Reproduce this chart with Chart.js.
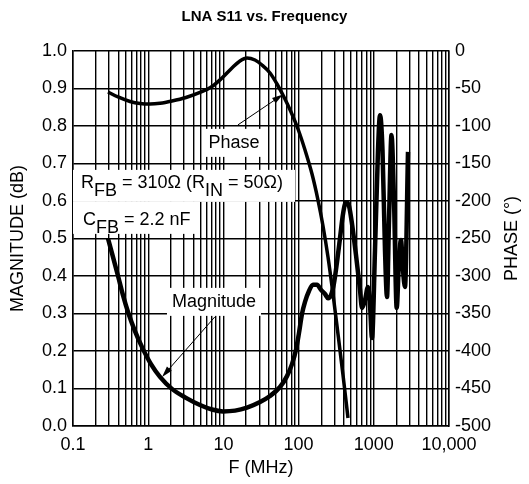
<!DOCTYPE html>
<html>
<head>
<meta charset="utf-8">
<script src="https://cdn.jsdelivr.net/npm/chart.js@4.4.1/dist/chart.umd.min.js"></script>
<style>
  html, body { margin: 0; padding: 0; background: #fff; }
  canvas { display: block; }
</style>
</head>
<body>
<canvas id="s11Chart" width="529" height="484"></canvas>
<script>
// S11 magnitude (dB) vs frequency (MHz)
const magFreq = [0.292, 0.34, 0.397, 0.462, 0.539, 0.667, 0.853, 1.089, 1.435, 2.07, 3.18, 4.88, 7.05, 9.88, 14.3, 20.6, 30.7, 41.7, 56.6, 70.1, 81.7, 92.3, 101.2, 111, 121.7, 137.5, 155.4, 175.7, 198.6, 224.5, 246, 269.7, 295.6, 324, 355.2, 389.4, 426.8, 467.9, 513, 579.8, 655.4, 696.6, 763.8, 837.3, 890.2, 946.5, 1037.5, 1137.5, 1209, 1305, 1409, 1498, 1593, 1719, 1856, 2016, 2163, 2299, 2445, 2599, 2849];
const magnitude = [0.500, 0.451, 0.400, 0.349, 0.304, 0.253, 0.205, 0.165, 0.131, 0.099, 0.075, 0.056, 0.044, 0.039, 0.041, 0.049, 0.064, 0.080, 0.104, 0.133, 0.165, 0.203, 0.248, 0.299, 0.331, 0.360, 0.377, 0.377, 0.363, 0.352, 0.341, 0.349, 0.381, 0.437, 0.501, 0.565, 0.597, 0.587, 0.539, 0.456, 0.363, 0.315, 0.336, 0.371, 0.323, 0.235, 0.469, 0.736, 0.829, 0.736, 0.469, 0.344, 0.549, 0.776, 0.603, 0.315, 0.443, 0.496, 0.416, 0.371, 0.731];

// S11 phase (degrees) vs frequency (MHz)
const phaseFreq = [0.292, 0.397, 0.573, 0.778, 1.057, 1.435, 2.07, 3.18, 4.88, 7.05, 9.58, 13.0, 16.6, 20.6, 26.3, 32.6, 41.7, 51.6, 63.9, 79.3, 98.2, 121.7, 150.8, 181.1, 211.1, 246, 286.7, 334, 389.4, 453.8];
const phase = [-54.7, -61.3, -67.3, -70, -70.7, -69.7, -66.7, -62, -55.3, -47.3, -36, -22.7, -13.3, -9.3, -12, -18.7, -29.3, -44, -61.3, -81.3, -104, -132, -164, -198.7, -233.3, -274.7, -324, -377.3, -432, -489.3];

// axis ticks
const decades = [0.1, 1, 10, 100, 1000, 10000];
const decadeLabels = ['0.1', '1', '10', '100', '1000', '10,000'];
const magTickLabels = ['0.0', '0.1', '0.2', '0.3', '0.4', '0.5', '0.6', '0.7', '0.8', '0.9', '1.0'];
const phaseTickLabels = ['-500', '-450', '-400', '-350', '-300', '-250', '-200', '-150', '-100', '-50', '0'];

// log grid: 1..9 in every decade
const gridValues = [];
decades.slice(0, -1).forEach(d => {
  for (let k = 1; k <= 9; k++) gridValues.push(d * k);
});
gridValues.push(decades[decades.length - 1]);

const FONT = '"Liberation Sans", Arial, Helvetica, sans-serif';
Chart.defaults.font.family = FONT;
Chart.defaults.color = '#000';

// callouts, placed in data units (MHz, magnitude)
const notes = {
  box: { f: 0.1, m: 0.683, rows: [222, 122], rowH: 32 },
  phaseLabel: { f: 13.8, m: 0.755, text: 'Phase' },
  phaseArrow: { from: [15.6, 0.803], to: [62, 0.884] },
  magLabel: { f: 7.5, m: 0.331, text: 'Magnitude' },
  magArrow: { from: [7.7, 0.291], to: [1.53, 0.131] }
};

function drawParts(ctx, x, y, parts) {
  parts.forEach(([txt, sub]) => {
    ctx.fillText(txt, x, sub ? y + 8 : y);
    x += ctx.measureText(txt).width;
  });
}

function arrow(ctx, x1, y1, x2, y2) {
  const a = Math.atan2(y2 - y1, x2 - x1);
  const len = 11, half = 3.2;
  ctx.beginPath();
  ctx.moveTo(x1, y1);
  ctx.lineTo(x2 - Math.cos(a) * len * 0.8, y2 - Math.sin(a) * len * 0.8);
  ctx.lineWidth = 1;
  ctx.strokeStyle = '#000';
  ctx.stroke();
  ctx.beginPath();
  ctx.moveTo(x2, y2);
  ctx.lineTo(x2 - Math.cos(a) * len - Math.sin(a) * half, y2 - Math.sin(a) * len + Math.cos(a) * half);
  ctx.lineTo(x2 - Math.cos(a) * len + Math.sin(a) * half, y2 - Math.sin(a) * len - Math.cos(a) * half);
  ctx.closePath();
  ctx.fillStyle = '#000';
  ctx.fill();
}

const calloutPlugin = {
  id: 'callouts',
  beforeDatasetsDraw(chart) {
    const { ctx, scales: { x, y } } = chart;
    const px = f => x.getPixelForValue(f);
    const py = m => y.getPixelForValue(m);
    ctx.save();
    ctx.font = '18px ' + FONT;
    ctx.textBaseline = 'alphabetic';

    // component values box
    const b = notes.box;
    const bx = px(b.f), by = py(b.m);
    ctx.fillStyle = '#fff';
    ctx.fillRect(bx, by, b.rows[0], b.rowH);
    ctx.fillRect(bx, by + b.rowH, b.rows[1], b.rowH);
    ctx.fillStyle = '#000';
    ctx.textAlign = 'left';
    drawParts(ctx, bx + 8, by + 18.5, [['R', 0], ['FB', 1], [' = 310Ω (R', 0], ['IN', 1], [' = 50Ω)', 0]]);
    drawParts(ctx, bx + 10, by + 55, [['C', 0], ['FB', 1], [' = 2.2 nF', 0]]);

    // curve labels
    [notes.phaseLabel, notes.magLabel].forEach(l => {
      const w = ctx.measureText(l.text).width + 10;
      const cx = px(l.f), cy = py(l.m);
      ctx.fillStyle = '#fff';
      ctx.fillRect(cx - w / 2, cy - 14, w, 28);
      ctx.fillStyle = '#000';
      ctx.textAlign = 'center';
      ctx.textBaseline = 'middle';
      ctx.fillText(l.text, cx, cy);
    });

    [notes.phaseArrow, notes.magArrow].forEach(a => {
      arrow(ctx, px(a.from[0]), py(a.from[1]), px(a.to[0]), py(a.to[1]));
    });
    ctx.restore();
  },
  afterDraw(chart) {
    const { ctx, chartArea: ca } = chart;
    ctx.save();
    ctx.font = '18px ' + FONT;
    ctx.fillStyle = '#000';
    ctx.textAlign = 'center';
    ctx.textBaseline = 'middle';
    const midY = (ca.top + ca.bottom) / 2;
    ctx.fillText('F (MHz)', (ca.left + ca.right) / 2, 468);
    [[18, 'MAGNITUDE (dB)'], [512, 'PHASE (°)']].forEach(([tx, t]) => {
      ctx.save();
      ctx.translate(tx, midY);
      ctx.rotate(-Math.PI / 2);
      ctx.fillText(t, 0, 0);
      ctx.restore();
    });
    ctx.restore();
  }
};

const tickFont = { size: 18 };

new Chart(document.getElementById('s11Chart'), {
  type: 'line',
  data: {
    datasets: [
      {
        label: 'Magnitude',
        data: magFreq.map((f, i) => ({ x: f, y: magnitude[i] })),
        yAxisID: 'y',
        borderColor: '#000',
        borderWidth: 4.5,
        pointRadius: 0,
        cubicInterpolationMode: 'monotone'
      },
      {
        label: 'Phase',
        data: phaseFreq.map((f, i) => ({ x: f, y: phase[i] })),
        yAxisID: 'y2',
        borderColor: '#000',
        borderWidth: 3.5,
        pointRadius: 0,
        cubicInterpolationMode: 'monotone'
      }
    ]
  },
  options: {
    responsive: false,
    animation: false,
    layout: { padding: 0 },
    plugins: {
      legend: { display: false },
      tooltip: { enabled: false },
      title: {
        display: true,
        text: 'LNA S11 vs. Frequency',
        color: '#000',
        font: { size: 15, weight: 'bold' },
        padding: { top: 8, bottom: 25 }
      }
    },
    scales: {
      x: {
        type: 'logarithmic',
        position: 'bottom',
        min: 0.1,
        max: 10000,
        grid: { color: '#000', lineWidth: 1.4, drawTicks: false },
        border: { color: '#000', width: 1.5 },
        afterBuildTicks: s => { s.ticks = gridValues.map(v => ({ value: v })); },
        afterFit: s => { s.height = 58; },
        ticks: {
          autoSkip: false,
          maxRotation: 0,
          padding: 8,
          font: tickFont,
          callback: (v, i) => (i % 9 === 0 ? decadeLabels[i / 9] : '')
        }
      },
      y: {
        position: 'left',
        min: 0,
        max: 1,
        grid: { color: '#000', lineWidth: 1.4, drawTicks: false },
        border: { color: '#000', width: 1.5 },
        afterFit: s => { s.width = 73; },
        ticks: {
          stepSize: 0.1,
          padding: 6,
          font: tickFont,
          callback: (v, i) => magTickLabels[i]
        }
      },
      y2: {
        position: 'right',
        min: -500,
        max: 0,
        grid: { display: false, drawTicks: false },
        border: { color: '#000', width: 1.5 },
        afterFit: s => { s.width = 80; },
        ticks: {
          stepSize: 50,
          padding: 6,
          font: tickFont,
          callback: (v, i) => phaseTickLabels[i]
        }
      }
    }
  },
  plugins: [calloutPlugin]
});
</script>
</body>
</html>
